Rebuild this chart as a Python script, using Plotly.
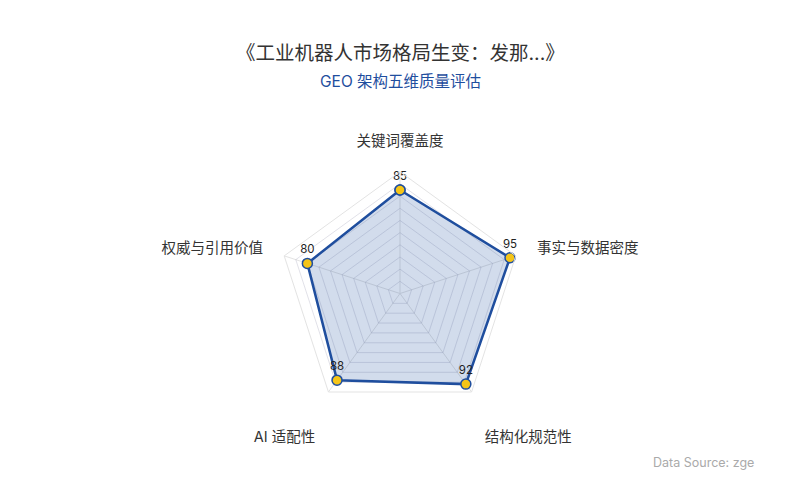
import plotly.graph_objects as go

# radar dimensions and scores
dimensions = ["关键词覆盖度", "事实与数据密度", "结构化规范性", "AI 适配性", "权威与引用价值"]
scores = [85, 95, 92, 88, 80]

title_text = "《工业机器人市场格局生变：发那...》"
subtitle_text = "GEO 架构五维质量评估"
source_text = "Data Source: zge"

blue = "#1f4e9e"
font_family = "Inter, Noto Sans CJK SC, sans-serif"

W, H = 800, 500

# lower axis names sit a line further out, as in the original layout
tick_text = ["<br>" + d if i in (2, 3) else d for i, d in enumerate(dimensions)]

fig = go.Figure()

fig.add_trace(go.Scatterpolar(
    r=scores + scores[:1],
    theta=dimensions + dimensions[:1],
    mode="lines+markers+text",
    text=[str(s) for s in scores] + [""],
    textposition="top center",
    textfont=dict(size=11.5, color="#222", family=font_family),
    line=dict(color=blue, width=2.5),
    marker=dict(size=10, color="#f5c518", line=dict(color=blue, width=1.5)),
    fill="toself",
    fillcolor="rgba(30,80,160,0.2)",
    hoverinfo="skip",
    showlegend=False,
))

# polar area: centre and radius in pixels
cx, cy, rad = 392, 285.5, 121.75

fig.update_layout(
    width=W,
    height=H,
    paper_bgcolor="white",
    plot_bgcolor="white",
    margin=dict(l=0, r=0, t=0, b=0),
    font=dict(family=font_family, color="#333"),
    polar=dict(
        domain=dict(x=[(cx - rad) / W, (cx + rad) / W],
                    y=[(H - cy - rad) / H, (H - cy + rad) / H]),
        gridshape="linear",
        bgcolor="white",
        radialaxis=dict(
            range=[0, 100],
            dtick=10,
            showticklabels=False,
            ticks="",
            showline=False,
            gridcolor="rgba(170,170,190,0.35)",
            gridwidth=1,
        ),
        angularaxis=dict(
            direction="clockwise",
            rotation=90,
            showline=True,
            linecolor="#e3e3e3",
            linewidth=1,
            gridcolor="#e3e3e3",
            tickmode="array",
            tickvals=dimensions,
            ticktext=tick_text,
            ticks="outside",
            ticklen=19,
            tickcolor="rgba(0,0,0,0)",
            tickfont=dict(size=14.5, color="#333"),
        ),
    ),
    annotations=[
        dict(text=title_text, x=392 / W, y=1 - 45 / H, xref="paper", yref="paper",
             yanchor="middle", showarrow=False, font=dict(size=19.5, color="#333")),
        dict(text=subtitle_text, x=392 / W, y=1 - 73 / H, xref="paper", yref="paper",
             yanchor="middle", showarrow=False, font=dict(size=15.5, color=blue)),
        dict(text=source_text, x=643 / W, y=1 - 454 / H, xref="paper", yref="paper",
             xanchor="left", yanchor="middle", showarrow=False,
             font=dict(size=12.5, color="#aaa")),
    ],
)

fig.write_html("out.html")
